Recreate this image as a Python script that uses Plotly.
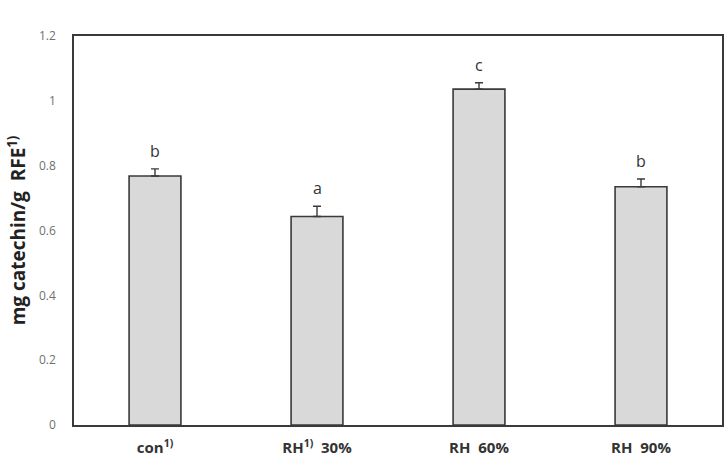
import plotly.graph_objects as go

categories = ["con<sup>1)</sup>", "RH<sup>1)</sup>  30%", "RH  60%", "RH  90%"]
values = [0.768, 0.643, 1.036, 0.735]
errors = [0.022, 0.032, 0.020, 0.024]
letters = ["b", "a", "c", "b"]
y_ticks = [0, 0.2, 0.4, 0.6, 0.8, 1, 1.2]
y_tick_labels = ["0", "0.2", "0.4", "0.6", "0.8", "1", "1.2"]

FONT = "Open Sans, Noto Sans, sans-serif"

fig = go.Figure()
fig.add_trace(go.Bar(
    x=categories, y=values,
    marker=dict(color="#d9d9d9", line=dict(color="#3a3a3a", width=1.6)),
    width=0.32,
    error_y=dict(type="data", array=errors, arrayminus=[0]*len(errors), visible=True,
                 color="#3a3a3a", thickness=1.4, width=4),
    showlegend=False,
))

for c, v, e, t in zip(categories, values, errors, letters):
    fig.add_annotation(x=c, y=v + e, text=t, showarrow=False, yanchor="middle", yshift=18,
                       font=dict(family=FONT, size=16, color="#333333"))

fig.update_layout(
    width=728, height=459,
    margin=dict(l=74, r=6, t=36, b=34),
    paper_bgcolor="white", plot_bgcolor="white",
    font=dict(family=FONT),
    bargap=0.68,
)
fig.update_xaxes(
    showline=True, linecolor="#3a3a3a", linewidth=1.6, mirror=True,
    showgrid=False, ticks="", ticklabelstandoff=8, automargin=False,
    tickfont=dict(size=15, color="#333333", family=FONT, weight="bold"),
)
fig.update_yaxes(
    range=[0, 1.2], tickvals=y_ticks, ticktext=y_tick_labels,
    showline=True, linecolor="#3a3a3a", linewidth=1.6, mirror=True,
    showgrid=False, zeroline=False, ticks="", ticklabelstandoff=14,
    tickfont=dict(size=12, color="#707070"),
    title=dict(text="mg catechin/g  RFE<sup>1)</sup>", standoff=8,
               font=dict(size=19, color="#222222", weight="bold")),
    automargin=False,
)

fig.write_html("out.html")
